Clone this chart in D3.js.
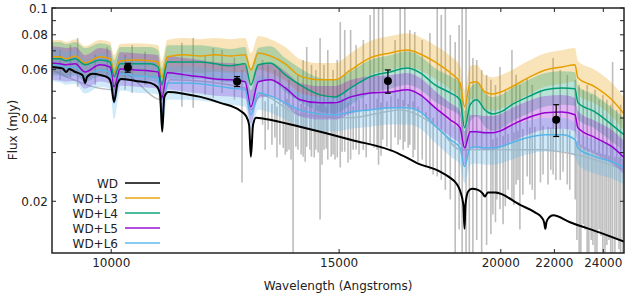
<!DOCTYPE html>
<html>
<head>
<meta charset="utf-8">
<script src="https://cdn.jsdelivr.net/npm/d3@7"></script>
<style>
  body { margin: 0; background: #fff; }
  svg { display: block; font-family: "DejaVu Sans", sans-serif; }
</style>
</head>
<body>
<svg width="625" height="300"></svg>
<script>
// model grid (Angstroms) and fluxes (mJy)
const modelWave = [9000, 9130, 9230, 9380, 9546, 9800, 9980, 10050, 10160, 10440, 10720, 10870, 10940, 11050, 11400, 11720, 12030, 12360, 12690, 12820, 12990, 13270, 13630, 13990, 14500, 14890, 15310, 15850, 16430, 16930, 17330, 17790, 18280, 18600, 18750, 18940, 19160, 19440, 19720, 20000, 20400, 20990, 21650, 22300, 22820, 22940, 23650, 24370, 24900]
const fluxL3 = [.0666, .0666, .0655, .0671, .0633, .0666, .0655, .0587, .0644, .0649, .0644, .0638, .0559, .0666, .0677, .0671, .0677, .0671, .0677, .0597, .0688, .0671, .0628, .0568, .0550, .0550, .0597, .0660, .0688, .0705, .0682, .0638, .0583, .0536, .0439, .0536, .0541, .0497, .0489, .0497, .0519, .0559, .0597, .0612, .0623, .0559, .0519, .0466, .0414]
const fluxL4 = [.0655, .0655, .0644, .0655, .0623, .0649, .0638, .0564, .0628, .0628, .0628, .0612, .0527, .0638, .0638, .0638, .0628, .0618, .0628, .0527, .0623, .0633, .0573, .0527, .0485, .0477, .0514, .0564, .0587, .0607, .0583, .0527, .0493, .0466, .0369, .0447, .0466, .0428, .0414, .0421, .0447, .0477, .0506, .0514, .0510, .0454, .0421, .0378, .0348]
const fluxL5 = [.0633, .0628, .0623, .0628, .0587, .0623, .0612, .0519, .0602, .0597, .0592, .0587, .0473, .0583, .0573, .0564, .0554, .0550, .0541, .0439, .0541, .0550, .0514, .0466, .0454, .0454, .0477, .0493, .0497, .0506, .0485, .0436, .0394, .0369, .0312, .0357, .0357, .0354, .0354, .0360, .0378, .0401, .0418, .0421, .0411, .0369, .0340, .0315, .0288]
const fluxL6 = [.0623, .0618, .0607, .0612, .0564, .0597, .0587, .0454, .0578, .0568, .0564, .0559, .0411, .0536, .0536, .0532, .0523, .0514, .0506, .0411, .0493, .0481, .0454, .0428, .0414, .0411, .0421, .0428, .0436, .0436, .0421, .0375, .0334, .0312, .0267, .0312, .0315, .0312, .0312, .0315, .0326, .0340, .0348, .0348, .0334, .0312, .0290, .0278, .0265]
const modelSpread = 0.15 // fractional width of each model band

// white dwarf model
const wdWave = [9000, 9130, 9180, 9230, 9280, 9380, 9465, 9510, 9546, 9580, 9670, 9800, 9950, 10000, 10050, 10110, 10180, 10440, 10720, 10850, 10910, 10950, 10990, 11070, 11400, 11720, 12140, 12580, 12710, 12780, 12820, 12870, 12940, 13150, 13990, 15310, 16660, 16780, 16860, 17200, 17950, 18280, 18480, 18610, 18710, 18750, 18780, 18870, 19000, 19200, 19370, 19440, 19540, 19800, 20700, 21270, 21500, 21600, 21650, 21690, 21800, 21950, 22620, 23860, 24900]
const wdFlux = [.0612, .0607, .0602, .0587, .0602, .0587, .0578, .0568, .0536, .0564, .0578, .0573, .0559, .0532, .0458, .0532, .0554, .0545, .0536, .0519, .0485, .0357, .0477, .0497, .0489, .0477, .0454, .0425, .0407, .0378, .0290, .0378, .0401, .0397, .0372, .0334, .0298, .0293, .0290, .0276, .0256, .0243, .0232, .0217, .0194, .0159, .0194, .0217, .0222, .0220, .0213, .0208, .0215, .0215, .0194, .0182, .0175, .0168, .0159, .0168, .0175, .0178, .0168, .0154, .0143]

// observed spectrum: smooth level plus noise spikes
const specWave = [9000, 10050, 10160, 10940, 11100, 12690, 12820, 13040, 13990, 15310, 16720, 17950, 18610, 19650, 21460, 22830, 24900]
const specFlux = [.0597, .0506, .0587, .0466, .0550, .0514, .0428, .0485, .0411, .0401, .0428, .0363, .0307, .0307, .0307, .0295, .0260]
const spikeWave = [9130, 9300, 9420, 9720, 9930, 10250, 10380, 10620, 11340, 11570, 11820, 11990, 12180, 12450, 12620, 13090, 13220, 13380, 13500, 13630, 13720, 13820, 13940, 14070, 14160, 14280, 14390, 14500, 14600, 14700, 14840, 14950, 15030, 15150, 15310, 15460, 15660, 15850, 15960, 16090, 16210, 16570, 16720, 16860, 17010, 17160, 17390, 17630, 17860, 17990, 18120, 18280, 18440, 18570, 18670, 18800, 18910, 19030, 19160, 19330, 19500, 19650, 19810, 19970, 20160, 20400, 20550, 20690, 20960, 21150, 21460, 21950, 22230, 22510, 22830, 22990, 23160, 23320, 23490, 23650, 23820, 23980, 24150, 24320, 24400, 24580, 24750]
const spikeTop = [.0705, .0735, .0779, .0677, .0723, .0677, .0735, .0694, .0748, .0779, .0677, .0717, .0705, .0660, .0597, .0649, .0623, .0597, .0607, .0519, .0550, .0485, .0573, .0649, .0723, .0623, .0597, .0779, .0623, .0705, .0597, .0649, .0890, .0833, .0833, .0735, .0766, .0944, .1000, .1000, .1000, .0766, .1000, .1000, .0833, .0819, .0766, .0812, .1000, .0944, .1000, .0799, .0754, .0868, .1000, .1000, .0766, .0660, .0649, .0597, .0573, .0550, .0527, .0612, .0506, .0705, .0573, .0527, .0555, .0527, .0506, .0660, .0597, .0573, .0550, .0527, .0506, .0527, .0485, .0506, .0466, .0485, .0466, .0447, .0638, .0428, .0447]
const spikeBottom = [.0550, .0559, .0519, .0527, .0559, .0506, .0493, .0527, .0439, .0436, .0485, .0473, .0493, .0466, .0234, .0378, .0363, .0340, .0320, .0295, .0307, .0128, .0307, .0290, .0315, .0290, .0307, .0172, .0307, .0283, .0295, .0288, .0265, .0302, .0283, .0307, .0307, .0320, .0312, .0271, .0334, .0340, .0334, .0328, .0320, .0307, .0283, .0260, .0246, .0239, .0220, .0203, .0128, .0158, .0128, .0128, .0128, .0128, .0145, .0128, .0139, .0152, .0168, .0187, .0192, .0203, .0230, .0158, .0246, .0220, .0234, .0250, .0239, .0230, .0203, .0128, .0165, .0128, .0145, .0128, .0158, .0128, .0139, .0128, .0128, .0145, .0128]
// shorter noise below the model bands (H and K)
const fringeWave = [13150, 13310, 13430, 13580, 13670, 13770, 13890, 14020, 14120, 14240, 14350, 14450, 14550, 14660, 14790, 14890, 15080, 15240, 15380, 15540, 15740, 16050, 16160, 16330, 16450, 16660, 16810, 16960, 17110, 17260, 17510, 17730, 19720, 19860, 20080, 20260, 20470, 20620, 20800, 21060, 21250, 21560, 21750, 21860, 22060, 22340, 22610, 22900, 23060, 23230, 23390, 23560, 23730, 23900, 24070, 24240, 24500, 24680, 24850]
const fringeTop = [.0460, .0450, .0440, .0455, .0470, .0445, .0435, .0450, .0440, .0460, .0430, .0445, .0455, .0440, .0460, .0450, .0470, .0455, .0440, .0465, .0450, .0470, .0455, .0460, .0480, .0470, .0465, .0450, .0460, .0440, .0420, .0400, .0335, .0340, .0345, .0350, .0355, .0360, .0365, .0370, .0372, .0375, .0372, .0370, .0368, .0365, .0360, .0330, .0320, .0315, .0310, .0305, .0300, .0298, .0295, .0292, .0290, .0288, .0285]
const fringeBottom = [.0307, .0320, .0288, .0312, .0302, .0283, .0315, .0295, .0278, .0307, .0288, .0300, .0271, .0310, .0290, .0283, .0302, .0276, .0307, .0295, .0288, .0307, .0292, .0315, .0302, .0320, .0307, .0312, .0288, .0278, .0265, .0250, .0179, .0203, .0165, .0220, .0194, .0239, .0211, .0230, .0203, .0250, .0230, .0260, .0239, .0256, .0220, .0145, .0128, .0158, .0128, .0139, .0128, .0150, .0128, .0145, .0128, .0134, .0128]

// photometry
const photWave = [10300, 12510, 16360, 22070]
const photFlux = [.0609, .0542, .0545, .0394]
const photHi = [.0631, .0565, .0597, .0447]
const photLo = [.0586, .0520, .0492, .0343]

const xTicks = [10000, 15000, 20000, 22000, 24000]
const yTicks = [0.02, 0.03, 0.04, 0.05, 0.06, 0.07, 0.08, 0.09, 0.1]
const yLabelled = [0.02, 0.04, 0.06, 0.08, 0.1]

const legendNames = ['WD', 'WD+L3', 'WD+L4', 'WD+L5', 'WD+L6']
const legendColors = ['#000000', '#E69F00', '#009E73', '#9400D3', '#56B4E9']

const svg = d3.select('svg')
const box = {left: 52, right: 624, top: 8, bottom: 253}

const x = d3.scaleLog().domain([9000, 24900]).range([box.left, box.right])
const y = d3.scaleLog().domain([0.013, 0.1]).range([box.bottom, box.top])

svg.append('clipPath').attr('id', 'plotClip')
  .append('rect').attr('x', box.left).attr('y', box.top)
  .attr('width', box.right - box.left).attr('height', box.bottom - box.top)

const plot = svg.append('g').attr('clip-path', 'url(#plotClip)')

// observed spectrum
const specPts = specWave.map((w, i) => [w, specFlux[i]])
plot.append('path')
  .attr('d', d3.line().x(d => x(d[0])).y(d => y(d[1])).curve(d3.curveMonotoneX)(specPts))
  .attr('fill', 'none').attr('stroke', '#bdbdbd').attr('stroke-width', 1.5)

const spikes = spikeWave.map((w, i) => [w, spikeTop[i], spikeBottom[i]])
  .concat(fringeWave.map((w, i) => [w, fringeTop[i], fringeBottom[i]]))
plot.selectAll('line.spike').data(spikes).join('line')
  .attr('class', 'spike')
  .attr('x1', d => x(d[0])).attr('x2', d => x(d[0]))
  .attr('y1', d => y(d[1])).attr('y2', d => y(d[2]))
  .attr('stroke', '#bdbdbd').attr('stroke-width', 1.6)

// model bands then lines
const models = [fluxL3, fluxL4, fluxL5, fluxL6]
const bandArea = d3.area()
  .x(d => x(d[0]))
  .y0(d => y(d[1] / (1 + modelSpread)))
  .y1(d => y(d[1] * (1 + modelSpread)))
  .curve(d3.curveMonotoneX)

models.forEach((m, k) => {
  const pts = modelWave.map((w, i) => [w, m[i]])
  plot.append('path').attr('d', bandArea(pts))
    .attr('fill', legendColors[k + 1]).attr('fill-opacity', 0.28)
})

const modelLine = d3.line().x(d => x(d[0])).y(d => y(d[1])).curve(d3.curveMonotoneX)
models.forEach((m, k) => {
  const pts = modelWave.map((w, i) => [w, m[i]])
  plot.append('path').attr('d', modelLine(pts))
    .attr('fill', 'none').attr('stroke', legendColors[k + 1]).attr('stroke-width', 1.5)
})

// white dwarf
plot.append('path')
  .attr('d', modelLine(wdWave.map((w, i) => [w, wdFlux[i]])))
  .attr('fill', 'none').attr('stroke', '#000').attr('stroke-width', 2)

// photometry points
const phot = svg.append('g')
photWave.forEach((w, i) => {
  const px = x(w)
  phot.append('line').attr('x1', px).attr('x2', px)
    .attr('y1', y(photHi[i])).attr('y2', y(photLo[i]))
    .attr('stroke', '#000').attr('stroke-width', 1.2)
  ;[photHi[i], photLo[i]].forEach(v => {
    phot.append('line').attr('x1', px - 3).attr('x2', px + 3)
      .attr('y1', y(v)).attr('y2', y(v))
      .attr('stroke', '#000').attr('stroke-width', 1.2)
  })
  phot.append('circle').attr('cx', px).attr('cy', y(photFlux[i])).attr('r', 4).attr('fill', '#000')
})

// frame and ticks
const axes = svg.append('g')
axes.append('rect').attr('x', box.left).attr('y', box.top)
  .attr('width', box.right - box.left).attr('height', box.bottom - box.top)
  .attr('fill', 'none').attr('stroke', '#222').attr('stroke-width', 1.5)

xTicks.forEach(t => {
  const px = x(t)
  axes.append('line').attr('x1', px).attr('x2', px).attr('y1', box.bottom).attr('y2', box.bottom - 4).attr('stroke', '#222')
  axes.append('line').attr('x1', px).attr('x2', px).attr('y1', box.top).attr('y2', box.top + 4).attr('stroke', '#222')
  axes.append('text').attr('x', px).attr('y', 267).attr('text-anchor', 'middle')
    .attr('font-size', 12).attr('fill', '#222').text(t)
})

yTicks.forEach(t => {
  const py = y(t)
  axes.append('line').attr('x1', box.left).attr('x2', box.left + 4).attr('y1', py).attr('y2', py).attr('stroke', '#222')
  axes.append('line').attr('x1', box.right).attr('x2', box.right - 4).attr('y1', py).attr('y2', py).attr('stroke', '#222')
})
yLabelled.forEach(t => {
  axes.append('text').attr('x', 48).attr('y', y(t) + 4.5).attr('text-anchor', 'end')
    .attr('font-size', 12).attr('fill', '#222').text(t)
})

svg.append('text').attr('x', 338).attr('y', 290).attr('text-anchor', 'middle')
  .attr('font-size', 12).attr('fill', '#222').text('Wavelength (Angstroms)')
svg.append('text').attr('transform', 'translate(17,130) rotate(-90)').attr('text-anchor', 'middle')
  .attr('font-size', 12).attr('fill', '#222').text('Flux (mJy)')

// legend
const legend = svg.append('g')
legendNames.forEach((name, i) => {
  const ly = 183 + i * 15
  legend.append('text').attr('x', 118).attr('y', ly + 4.5).attr('text-anchor', 'end')
    .attr('font-size', 12).attr('fill', '#222').text(name)
  legend.append('line').attr('x1', 125).attr('x2', 160).attr('y1', ly).attr('y2', ly)
    .attr('stroke', legendColors[i]).attr('stroke-width', i === 0 ? 1.5 : 2)
    .attr('stroke-opacity', i === 0 ? 1 : 0.7)
})
</script>
</body>
</html>
